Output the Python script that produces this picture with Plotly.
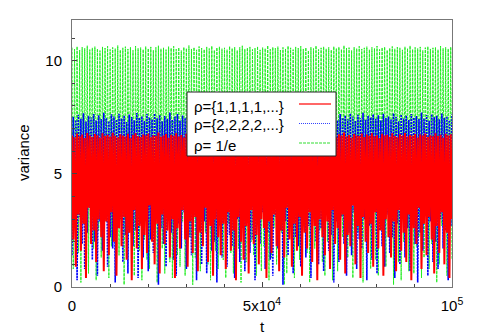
import numpy as np
import plotly.graph_objects as go

t_max = 1e5

red_peaks = [
6.70, 6.62, 6.78, 6.66, 6.74, 6.58, 6.81, 6.69, 6.63, 6.76,
6.71, 6.60, 6.79, 6.67, 6.73, 6.64, 6.82, 6.68, 6.61, 6.75,
6.70, 6.65, 6.77, 6.59, 6.72, 6.80, 6.66, 6.63, 6.74, 6.69,
6.78, 6.62, 6.71, 6.67, 6.83, 6.64, 6.70, 6.76, 6.60, 6.73,
6.68, 6.79, 6.65, 6.72, 6.61, 6.77, 6.69, 6.74, 6.63, 6.81,
6.66, 6.71, 6.58, 6.75, 6.70, 6.64, 6.78, 6.67, 6.73, 6.62,
6.80, 6.68, 6.65, 6.76, 6.71, 6.60, 6.74, 6.69, 6.82, 6.63,
6.72, 6.66, 6.77, 6.61, 6.70, 6.79, 6.67, 6.64, 6.75, 6.68,
6.73, 6.59, 6.78, 6.66, 6.71, 6.62, 6.80, 6.69, 6.74, 6.65,
6.76, 6.70, 6.63, 6.81, 6.67, 6.72, 6.60, 6.77, 6.68, 6.73,
6.64, 6.79, 6.66, 6.71, 6.62, 6.75, 6.69, 6.83, 6.65, 6.72,
6.61, 6.76, 6.70, 6.67, 6.78, 6.63, 6.74, 6.68, 6.80, 6.66,
6.71, 6.59, 6.77, 6.69, 6.73, 6.64, 6.79, 6.67, 6.62, 6.75,
6.70, 6.81, 6.65, 6.72, 6.68, 6.76, 6.61, 6.74, 6.69, 6.78,
6.63, 6.71, 6.66, 6.80, 6.67, 6.73, 6.60, 6.77, 6.70, 6.75]

red_troughs = [
2.1, 0.9, 3.2, 1.6, 2.8, 0.4, 3.5, 1.9, 2.5, 1.1, 3.0, 2.2, 0.7, 2.9, 1.4, 3.3, 2.0, 0.5, 2.6, 1.8,
3.1, 1.2, 2.4, 0.3, 3.4, 1.7, 2.7, 0.8, 2.3, 1.5, 3.6, 2.0, 1.0, 2.8, 0.6, 3.2, 1.9, 2.5, 1.3, 3.0,
0.4, 2.6, 1.7, 3.4, 2.1, 0.9, 2.9, 1.5, 3.1, 0.7, 2.4, 1.8, 3.5, 1.1, 2.7, 0.5, 3.0, 2.2, 1.4, 2.8,
0.8, 3.3, 1.6, 2.5, 0.3, 3.1, 2.0, 1.2, 2.7, 0.6, 3.4, 1.9, 2.3, 1.0, 3.0, 2.6, 0.4, 2.9, 1.5, 3.2,
1.8, 0.7, 2.5, 1.3, 3.5, 2.1, 0.9, 2.8, 1.6, 3.1, 0.5, 2.4, 1.7, 3.3, 1.1, 2.7, 0.3, 3.0, 2.2, 1.4,
2.9, 0.8, 3.4, 1.9, 2.6, 1.2, 3.2, 0.6, 2.3, 1.8, 3.6, 1.0, 2.7, 0.4, 3.1, 2.0, 1.5, 2.8, 0.9, 3.3,
1.7, 2.5, 0.5, 3.0, 2.2, 1.3, 2.9, 0.7, 3.4, 1.6, 2.4, 1.1, 3.2, 0.3, 2.6, 1.9, 3.5, 0.8, 2.8, 1.4,
3.1, 2.1, 0.6, 2.7, 1.5, 3.3, 1.0, 2.4, 0.4, 3.0]

blue_peaks = [
7.52, 7.38, 7.61, 7.44, 7.68, 7.31, 7.57, 7.49, 7.65, 7.36,
7.59, 7.42, 7.70, 7.47, 7.33, 7.63, 7.54, 7.40, 7.66, 7.45,
7.58, 7.29, 7.62, 7.51, 7.37, 7.69, 7.48, 7.55, 7.34, 7.64,
7.50, 7.41, 7.67, 7.46, 7.60, 7.32, 7.56, 7.43, 7.71, 7.39,
7.53, 7.65, 7.35, 7.58, 7.47, 7.62, 7.30, 7.55, 7.68, 7.44,
7.60, 7.37, 7.52, 7.66, 7.41, 7.57, 7.49, 7.63, 7.34, 7.59,
7.45, 7.70, 7.38, 7.54, 7.61, 7.42, 7.67, 7.50, 7.33, 7.64,
7.48, 7.56, 7.39, 7.69, 7.46, 7.58, 7.31, 7.62, 7.53, 7.43,
7.66, 7.36, 7.57, 7.49, 7.71, 7.40, 7.55, 7.63, 7.35, 7.60,
7.47, 7.68, 7.42, 7.52, 7.65, 7.38, 7.59, 7.45, 7.62, 7.32,
7.56, 7.69, 7.44, 7.51, 7.37, 7.64, 7.48, 7.58, 7.41, 7.67,
7.53, 7.34, 7.61, 7.46, 7.70, 7.39, 7.57, 7.50, 7.63, 7.43,
7.59, 7.36, 7.66, 7.47, 7.54, 7.40, 7.68, 7.52, 7.33, 7.62,
7.45, 7.58, 7.38, 7.65, 7.49, 7.56, 7.42, 7.71, 7.44, 7.60,
7.35, 7.64, 7.51, 7.57, 7.41, 7.67, 7.48, 7.55, 7.37, 7.62]

blue_troughs = [
1.4, 2.7, 0.3, 3.1, 1.9, 0.8, 2.4, 3.5, 1.2, 2.0,
0.5, 2.9, 1.6, 3.3, 0.9, 2.2, 1.7, 0.2, 2.6, 3.0,
1.1, 2.3, 0.6, 3.4, 1.8, 2.5, 0.4, 2.8, 1.3, 3.2,
0.7, 2.1, 1.5, 3.6, 0.1, 2.6, 1.9, 0.9, 3.0, 2.4,
1.2, 0.5, 2.8, 1.7, 3.3, 0.8, 2.2, 1.4, 3.1, 0.3,
2.5, 1.0, 2.9, 0.6, 3.4, 1.6, 2.0, 0.2, 2.7, 1.3,
3.2, 0.9, 2.3, 1.8, 0.4, 3.0, 1.1, 2.6, 0.7, 3.5,
1.5, 2.1, 0.3, 2.8, 1.9, 3.3, 0.8, 2.4, 1.2, 0.5,
3.1, 1.7, 2.5, 0.1, 2.9, 1.4, 3.4, 0.6, 2.2, 1.8,
0.9, 3.0, 1.3, 2.7, 0.4, 3.2, 2.0, 1.0, 2.6, 0.7,
3.5, 1.6, 2.3, 0.2, 2.9, 1.1, 3.1, 1.9, 0.5, 2.4,
1.4, 3.3, 0.8, 2.1, 1.7, 3.0, 0.3, 2.7, 1.2, 3.4,
0.6, 2.5, 1.8, 0.9, 3.2, 1.5, 2.2, 0.4, 2.8, 1.0,
3.6, 1.3, 2.6, 0.7, 3.1, 1.9, 0.2, 2.4, 1.6, 3.3,
0.5, 2.9, 1.1, 2.0, 0.8, 3.0, 1.7, 2.5, 0.3, 2.7]

green_peaks = [
10.58, 10.51, 10.63, 10.47, 10.60, 10.55, 10.66, 10.49, 10.57, 10.62,
10.53, 10.45, 10.61, 10.56, 10.64, 10.50, 10.59, 10.54, 10.67, 10.48,
10.57, 10.62, 10.52, 10.60, 10.46, 10.65, 10.55, 10.58, 10.50, 10.63,
10.54, 10.61, 10.47, 10.59, 10.66, 10.53, 10.57, 10.49, 10.62, 10.56,
10.64, 10.51, 10.58, 10.45, 10.60, 10.55, 10.67, 10.52, 10.59, 10.48,
10.63, 10.56, 10.50, 10.61, 10.54, 10.65, 10.47, 10.58, 10.62, 10.53,
10.57, 10.49, 10.64, 10.55, 10.60, 10.46, 10.59, 10.66, 10.52, 10.57,
10.61, 10.50, 10.56, 10.63, 10.48, 10.58, 10.54, 10.67, 10.51, 10.60,
10.55, 10.62, 10.47, 10.59, 10.53, 10.65, 10.57, 10.49, 10.61, 10.56,
10.64, 10.52, 10.58, 10.45, 10.60, 10.54, 10.66, 10.50, 10.57, 10.62,
10.53, 10.59, 10.48, 10.63, 10.55, 10.61, 10.51, 10.67, 10.56, 10.58,
10.46, 10.60, 10.54, 10.64, 10.52, 10.57, 10.62, 10.49, 10.59, 10.55,
10.65, 10.50, 10.58, 10.61, 10.47, 10.56, 10.63, 10.53, 10.60, 10.57,
10.48, 10.62, 10.55, 10.66, 10.51, 10.59, 10.54, 10.61, 10.46, 10.58,
10.63, 10.52, 10.57, 10.60, 10.49, 10.65, 10.55, 10.59, 10.53, 10.61]

green_troughs = [
0.8, 2.3, 1.5, 0.2, 2.8, 1.1, 0.6, 2.0, 1.7, 0.3,
2.5, 1.3, 0.9, 2.9, 0.4, 1.8, 2.2, 0.7, 1.4, 2.6,
0.1, 1.9, 2.4, 1.0, 0.5, 2.7, 1.6, 0.3, 2.1, 1.2,
0.8, 2.8, 1.5, 0.2, 2.3, 1.7, 0.6, 2.5, 1.1, 0.4,
2.0, 1.4, 0.9, 2.9, 0.5, 1.8, 2.2, 0.1, 1.3, 2.6,
0.7, 1.9, 2.4, 1.0, 0.3, 2.7, 1.6, 0.8, 2.1, 1.2,
0.4, 2.8, 1.5, 0.6, 2.3, 1.7, 0.2, 2.5, 1.1, 0.9,
2.0, 1.4, 0.5, 2.9, 0.7, 1.8, 2.2, 0.3, 1.3, 2.6,
1.0, 1.9, 2.4, 0.1, 0.6, 2.7, 1.6, 0.4, 2.1, 1.2,
0.8, 2.8, 1.5, 0.2, 2.3, 1.7, 0.9, 2.5, 1.1, 0.5,
2.0, 1.4, 0.3, 2.9, 0.7, 1.8, 2.2, 1.0, 1.3, 2.6,
0.4, 1.9, 2.4, 0.6, 0.2, 2.7, 1.6, 0.8, 2.1, 1.2,
0.5, 2.8, 1.5, 0.9, 2.3, 1.7, 0.1, 2.5, 1.1, 0.3,
2.0, 1.4, 0.7, 2.9, 0.6, 1.8, 2.2, 0.4, 1.3, 2.6,
0.8, 1.9, 2.4, 0.2, 1.0, 2.7, 1.6, 0.5, 2.1, 1.2]

legend_labels = ["ρ={1,1,1,1,...}", "ρ={2,2,2,2,...}", "ρ= 1/e"]
x_tick_vals = [0, 5e4, 1e5]
x_tick_text = ["0", "5x10<sup>4</sup>", "10<sup>5</sup>"]
y_tick_vals = [0, 5, 10]


def interleave(first, second):
    out = []
    for a, b in zip(first, second):
        out += [a, b]
    return out


red_y = interleave(red_peaks, red_troughs)
blue_y = interleave(blue_troughs, blue_peaks)
green_y = interleave(green_peaks, green_troughs)

t_red = np.linspace(0, t_max, len(red_y))
t_blue = np.linspace(0, t_max, len(blue_y))
t_green = np.linspace(0, t_max, len(green_y))

RED = "#ff0000"
BLUE = "#0000ff"
GREEN = "#22ee22"

fig = go.Figure()
fig.add_trace(go.Scatter(x=t_green, y=green_y, mode="lines",
                         line=dict(color=GREEN, width=1, dash="3px,1px")))
fig.add_trace(go.Scatter(x=t_blue, y=blue_y, mode="lines",
                         line=dict(color=BLUE, width=1.6, dash="2px,1px")))
fig.add_trace(go.Scatter(x=t_red, y=red_y, mode="lines",
                         line=dict(color=RED, width=2.0)))

# The page body has an 8px margin, so the figure sits at (8, 8) in the window.
OFF = 8
W, H = 480 - OFF, 336 - OFF
# plot area in window pixels
L, R, T, B = 72, 452, 20, 287


def px(xp):
    return (xp - L) / (R - L)


def py(yp):
    return (B - yp) / (B - T)


shapes = [dict(type="rect", xref="paper", yref="paper",
               x0=px(187), x1=px(336), y0=py(92), y1=py(156),
               fillcolor="white", line=dict(color="#222", width=1), layer="above")]
annotations = []
row_text_y = [106, 125, 145]
row_line_y = [104, 123.5, 143]
styles = [(RED, "solid"), ("#3344ff", "1px,1px"), ("#33dd33", "3px,1px")]
for lab, ty, ly, (c, d) in zip(legend_labels, row_text_y, row_line_y, styles):
    annotations.append(dict(text=lab, xref="paper", yref="paper",
                            x=px(192), y=py(ty), xanchor="left", yanchor="middle",
                            showarrow=False, font=dict(size=15, color="black")))
    shapes.append(dict(type="line", xref="paper", yref="paper",
                       x0=px(299), x1=px(331), y0=py(ly), y1=py(ly),
                       line=dict(color=c, width=1.2, dash=d), layer="above"))

annotations.append(dict(text="t", xref="paper", yref="paper", x=px(262), y=py(326),
                        xanchor="center", yanchor="middle", showarrow=False,
                        font=dict(size=15, color="black")))
annotations.append(dict(text="variance", xref="paper", yref="paper", x=px(23), y=py(152),
                        xanchor="center", yanchor="middle", showarrow=False, textangle=-90,
                        font=dict(size=15, color="black")))

fig.update_layout(
    width=W, height=H,
    margin=dict(l=L - OFF, r=480 - R, t=T - OFF, b=336 - B, autoexpand=False),
    paper_bgcolor="white", plot_bgcolor="white",
    showlegend=False,
    font=dict(family="Liberation Sans, Arial, sans-serif", size=15, color="black"),
    shapes=shapes, annotations=annotations,
    xaxis=dict(range=[0, t_max], tickmode="array", tickvals=x_tick_vals, ticktext=x_tick_text,
               automargin=False,
               ticks="inside", ticklen=5, tickcolor="#444", showline=True, linecolor="#777",
               linewidth=1, mirror=True, showgrid=False, zeroline=False,
               ticklabelstandoff=5,
               minor=dict(tick0=0, dtick=1e4, ticks="inside", ticklen=3, tickcolor="#444",
                          showgrid=False)),
    yaxis=dict(range=[0, 11.8], tickmode="array", tickvals=y_tick_vals,
               automargin=False,
               ticks="inside", ticklen=5, tickcolor="#444", showline=True, linecolor="#777",
               linewidth=1, mirror=True, showgrid=False, zeroline=False,
               ticklabelstandoff=6,
               minor=dict(tick0=0, dtick=1, ticks="inside", ticklen=3, tickcolor="#444",
                          showgrid=False)),
)

fig.write_html("out.html")
